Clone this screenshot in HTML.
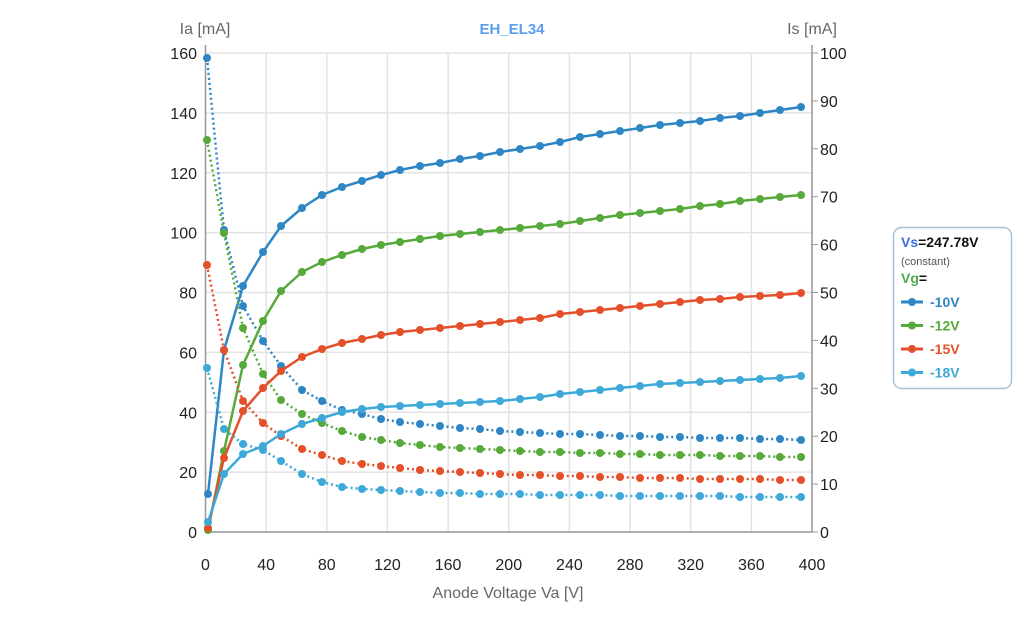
<!DOCTYPE html>
<html><head><meta charset="utf-8"><style>
body{margin:0;background:#fff;font-family:"Liberation Sans",Arial,sans-serif}
svg text{font-family:"Liberation Sans",Arial,sans-serif}
</style></head><body>
<svg id="s" width="1024" height="622" xmlns="http://www.w3.org/2000/svg">
<rect width="1024" height="622" fill="#fff"/>
<g id="grid"></g>
<text x="205" y="34" font-size="16" fill="#666" text-anchor="middle">Ia [mA]</text>
<text x="812" y="34" font-size="16" fill="#666" text-anchor="middle">Is [mA]</text>
<text x="512" y="34" font-size="15" font-weight="bold" fill="#5b9cf0" text-anchor="middle">EH_EL34</text>
<text x="508" y="598" font-size="16" fill="#666" text-anchor="middle">Anode Voltage Va [V]</text>
<g id="series"></g>
<rect x="893.5" y="227.5" width="118" height="161" rx="8" fill="#fff" stroke="#a9bfd8" stroke-width="1.5"/>
<text x="901" y="247" font-size="14" font-weight="bold"><tspan fill="#3b6fe0">Vs</tspan><tspan fill="#111">=247.78V</tspan></text>
<text x="901" y="265" font-size="11" fill="#555">(constant)</text>
<text x="901" y="283" font-size="14" font-weight="bold"><tspan fill="#4daa4d">Vg</tspan><tspan fill="#111">=</tspan></text>
<g id="leg"></g>
</svg>
<script>
const NS="http://www.w3.org/2000/svg";
function el(p,t,a,txt){const e=document.createElementNS(NS,t);for(const k in a)e.setAttribute(k,a[k]);if(txt!==undefined)e.textContent=txt;p.appendChild(e);return e;}
const g=document.getElementById('grid');
const x0=205.5,x1=812,y0=532,yt=53;
for(let i=0;i<=10;i++){const x=x0+(x1-x0)*i/10;
 el(g,'line',{x1:x,y1:yt,x2:x,y2:y0,stroke:'#e3e3e3','stroke-width':1.5});
 el(g,'text',{x:x,y:570,'font-size':16,fill:'#222','text-anchor':'middle'},String(i*40));}
for(let i=0;i<=8;i++){const y=y0-(y0-yt)*i/8;
 el(g,'line',{x1:x0,y1:y,x2:x1,y2:y,stroke:'#e3e3e3','stroke-width':1.5});
 el(g,'text',{x:197,y:y+6,'font-size':16,fill:'#222','text-anchor':'end'},String(i*20));}
for(let i=0;i<=10;i++){const y=y0-(y0-yt)*i/10;
 el(g,'line',{x1:x1,y1:y,x2:x1+6,y2:y,stroke:'#999','stroke-width':1});
 el(g,'text',{x:820,y:y+6,'font-size':16,fill:'#222'},String(i*10));}
el(g,'line',{x1:x0,y1:yt-8,x2:x0,y2:y0,stroke:'#999','stroke-width':1.5});
el(g,'line',{x1:x1,y1:yt-8,x2:x1,y2:y0,stroke:'#999','stroke-width':1.5});
el(g,'line',{x1:x0,y1:y0,x2:x1,y2:y0,stroke:'#999','stroke-width':1.5});
const X=[208,224,243,263,281,302,322,342,362,381,400,420,440,460,480,500,520,540,560,580,600,620,640,660,680,700,720,740,760,780,801];
const Xd=X.slice();Xd[0]=207;
function fill(a){while(a.length<31){const l=a[a.length-1],p=a[a.length-2];a.push(l+(l-p)*0.85);}return a;}
const S=[
 {c:'#2f86c4',a:[494,350,286,252,226,208,195,187,181,175,170,166,163,159,156,152,149,146,142,137,134,131,128,125,123,121,118,116,113,110,107],
  d:[58,230,306,341,366,390,401,410,414,419,422,424,426,428,429,431,432,433,434,434,435,436,436,437,437,438,438,438,439,439,440]},
 {c:'#56a93a',a:[530,451,365,321,291,272,262,255,249,245,242,239,236,234,232,230,228,226,224,221,218,215,213,211,209,206,204,201,199,197,195],
  d:[140,233,328,374,400,414,423,431,437,440,443,445,447,448,449,450,451,452,452,453,453,454,454,455,455,455,456,456,456,457,457]},
 {c:'#e4502a',a:[528,458,411,388,371,357,349,343,339,335,332,330,328,326,324,322,320,318,314,312,310,308,306,304,302,300,299,297,296,295,293],
  d:[265,350,401,423,436,449,455,461,464,466,468,470,471,472,473,474,475,475,476,476,477,477,478,478,478,479,479,479,479,480,480]},
 {c:'#3ea9d9',a:[522,474,454,446,434,424,418,412,409,407,406,405,404,403,402,401,399,397,394,392,390,388,386,384,383,382,381,380,379,378,376],
  d:[368,429,444,450,461,474,482,487,489,490,491,492,493,493,494,494,494,495,495,495,495,496,496,496,496,496,496,497,497,497,497]}
];
const sg=document.getElementById('series');
S.forEach(s=>{
 el(sg,'polyline',{points:Xd.map((x,i)=>x+','+s.d[i]).join(' '),fill:'none',stroke:s.c,'stroke-width':2.5,'stroke-dasharray':'2 3'});
 Xd.forEach((x,i)=>el(sg,'circle',{cx:x,cy:s.d[i],r:4,fill:s.c}));
 el(sg,'polyline',{points:X.map((x,i)=>x+','+s.a[i]).join(' '),fill:'none',stroke:s.c,'stroke-width':2.5});
 X.forEach((x,i)=>el(sg,'circle',{cx:x,cy:s.a[i],r:4,fill:s.c}));
});
const lg=document.getElementById('leg');
['-10V','-12V','-15V','-18V'].forEach((t,i)=>{const y=302+i*23.5,c=S[i].c;
 el(lg,'line',{x1:901,y1:y,x2:923,y2:y,stroke:c,'stroke-width':3});
 el(lg,'circle',{cx:912,cy:y,r:4,fill:c});
 el(lg,'text',{x:930,y:y+5,'font-size':14,'font-weight':'bold',fill:c},t);});
</script>
</body></html>
